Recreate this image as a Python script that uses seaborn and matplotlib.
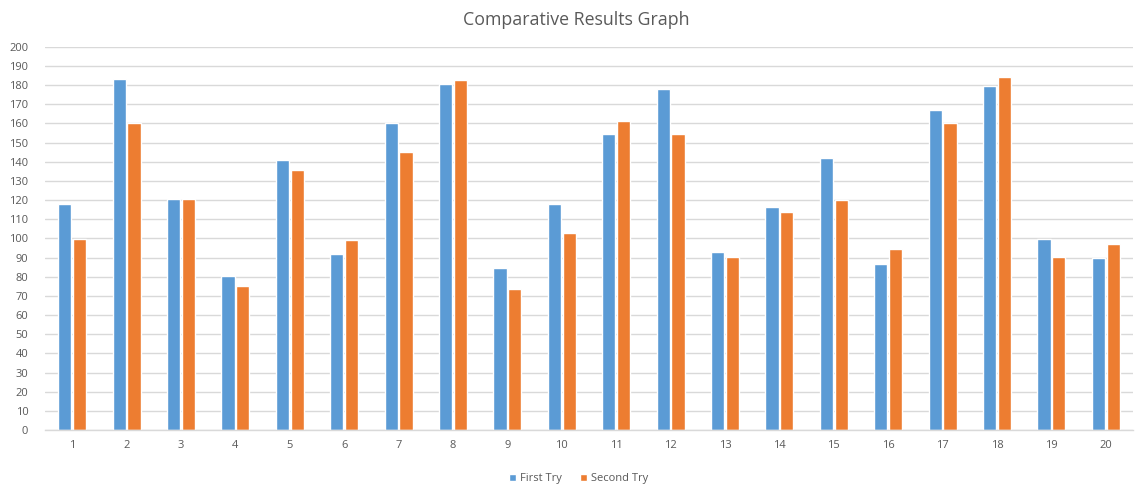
import numpy as np
import pandas as pd
import matplotlib
matplotlib.use("Agg")
import matplotlib.pyplot as plt
import seaborn as sns

# Trial numbers and scores for each attempt
trials = [str(i) for i in range(1, 21)]
first_try = [118, 183, 120.5, 80.5, 141, 92, 160, 180.5, 84.5, 118,
             154.5, 178, 92.7, 116.5, 141.7, 86.5, 167, 179.5, 99.7, 90]
second_try = [99.7, 160, 120.5, 75, 135.5, 99, 145, 182.8, 73.5, 103,
              161, 154.5, 90.5, 113.8, 120, 94.7, 160, 184, 90.5, 96.8]
series_names = ["First Try", "Second Try"]
y_ticks = list(range(0, 201, 10))

df = pd.DataFrame({
    "Trial": trials * 2,
    "Score": first_try + second_try,
    "Series": [series_names[0]] * len(trials) + [series_names[1]] * len(trials),
})

sns.set_theme(style="white")
plt.rcParams["font.family"] = ["Open Sans", "DejaVu Sans"]

text_gray = "#595959"
grid_gray = "#d9d9d9"
palette = {"First Try": "#5B9BD5", "Second Try": "#ED7D31"}

fig = plt.figure(figsize=(11.35, 4.95), dpi=100)
ax = fig.add_axes([45 / 1135, 65 / 495, 1088 / 1135, 383.3 / 495])

sns.barplot(data=df, x="Trial", y="Score", hue="Series", order=trials,
            hue_order=series_names, palette=palette, width=0.54, gap=0.1,
            saturation=1, ax=ax, legend=True)

ax.set_ylim(0, 200)
ax.set_xlim(-0.5, len(trials) - 0.5)
ax.set_yticks(y_ticks)
ax.yaxis.grid(True, color=grid_gray, linewidth=1)
ax.set_axisbelow(True)
for side in ["top", "right", "left"]:
    ax.spines[side].set_visible(False)
ax.spines["bottom"].set_color(grid_gray)
ax.spines["bottom"].set_linewidth(1)
ax.tick_params(axis="both", length=0, labelsize=8, colors=text_gray, pad=7)
ax.tick_params(axis="y", pad=12)
ax.set_xlabel("")
ax.set_ylabel("")

fig.suptitle("Comparative Results Graph", x=0.508, y=0.978, fontsize=12.8,
             color=text_gray)

handles, labels = ax.get_legend_handles_labels()
ax.get_legend().remove()
fig.legend(handles, labels, loc="center", bbox_to_anchor=(0.51, 0.033),
           ncol=2, frameon=False, fontsize=8, handlelength=0.6,
           handleheight=0.6, handletextpad=0.4, columnspacing=1.6,
           labelcolor=text_gray)

fig.savefig("out.png", dpi=100)
